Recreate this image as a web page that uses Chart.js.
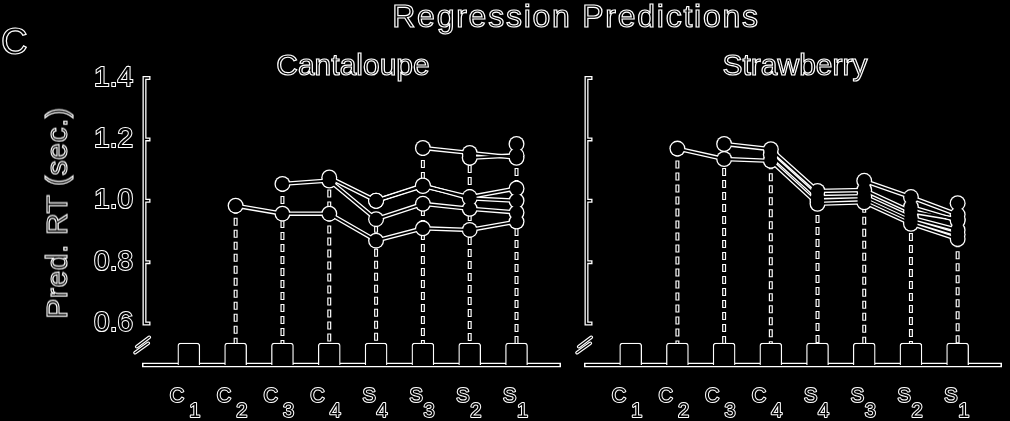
<!DOCTYPE html>
<html><head><meta charset="utf-8">
<script src="https://cdn.jsdelivr.net/npm/chart.js@4/dist/chart.umd.min.js"></script>
<style>
html,body{margin:0;padding:0;background:#000;width:1010px;height:421px;overflow:hidden;}
#wrap{position:relative;width:1010px;height:421px;background:#000;}
canvas{position:absolute;top:0;}
.t{position:absolute;font-family:'Liberation Sans',Arial,sans-serif;color:#000;-webkit-text-stroke:1.2px #fff;line-height:1;white-space:nowrap;}
</style></head><body>
<div id="wrap">
<canvas id="c1" width="572" height="421" style="left:0;width:572px;height:421px"></canvas>
<canvas id="c2" width="438" height="421" style="left:572px;width:438px;height:421px"></canvas>
<div class="t" id="panelLetter" style="font-size:37px;left:1px;top:23px;">C</div>
<div class="t" id="mainTitle" style="font-size:32px;left:576px;top:0px;letter-spacing:1.75px;transform:translateX(-50%);"></div>
<div class="t" id="leftTitle" style="font-size:30px;left:353px;top:50px;transform:translateX(-50%);"></div>
<div class="t" id="rightTitle" style="font-size:30px;left:795px;top:50px;transform:translateX(-50%);"></div>
<div class="t" id="yLabel" style="font-size:30px;left:56.6px;top:212.5px;letter-spacing:0.6px;transform:translate(-50%,-50%) rotate(-90deg);"></div>
</div>
<script>
// ---- data ----
const mainTitle = 'Regression Predictions';
const panelTitles = ['Cantaloupe', 'Strawberry'];
const yAxisTitle = 'Pred. RT (sec.)';
const categories = ['C1', 'C2', 'C3', 'C4', 'S4', 'S3', 'S2', 'S1'];
const yTicks = [0.6, 0.8, 1.0, 1.2, 1.4];

const cantaloupe1 = [null, 0.984, 0.958, 0.958, 0.870, 0.910, 0.905, 0.932];
const cantaloupe2 = [null, null, 1.055, 1.066, 0.940, 0.990, 0.974, 0.962];
const cantaloupe3 = [null, null, null, 1.076, 1.000, 1.050, 1.008, 1.000];
const cantaloupe4 = [null, null, null, null, 1.000, 1.048, 1.012, 1.040];
const cantaloupe5 = [null, null, null, null, null, 1.172, 1.156, 1.140];
const cantaloupe6 = [null, null, null, null, null, null, 1.140, 1.148];
const cantaloupe7 = [null, null, null, null, null, null, null, 1.185];

const strawberry1 = [null, 1.170, 1.136, 1.130, 0.990, 0.995, 0.925, 0.875];
const strawberry2 = [null, null, 1.185, 1.168, 1.032, 1.035, 0.965, 0.940];
const strawberry3 = [null, null, null, 1.150, 1.012, 1.015, 0.945, 0.905];
const strawberry4 = [null, null, null, null, 1.000, 1.005, 0.935, 0.890];
const strawberry5 = [null, null, null, null, null, 1.065, 1.012, 0.955];
const strawberry6 = [null, null, null, null, null, null, 0.980, 0.935];
const strawberry7 = [null, null, null, null, null, null, null, 0.992];

const cantaloupeSeries = [cantaloupe1, cantaloupe2, cantaloupe3, cantaloupe4, cantaloupe5, cantaloupe6, cantaloupe7];
const strawberrySeries = [strawberry1, strawberry2, strawberry3, strawberry4, strawberry5, strawberry6, strawberry7];

// ---- layout constants ----
const Y_MIN = 0.4648, Y_MAX = 1.4, BOX_TOP = 0.5365, X_MIN = 0, X_MAX = 8.95;
const FONT = "'Liberation Sans', Arial, sans-serif";
Chart.defaults.font.family = FONT;

document.getElementById('mainTitle').textContent = mainTitle;
document.getElementById('leftTitle').textContent = panelTitles[0];
document.getElementById('rightTitle').textContent = panelTitles[1];
document.getElementById('yLabel').textContent = yAxisTitle;

function buildDatasets(series) {
  const ds = [];
  ds.push({
    type: 'bar',
    data: categories.map((c, i) => ({x: i + 1, y: [Y_MIN, BOX_TOP]})),
    backgroundColor: '#000', borderColor: '#fff',
    borderWidth: {top: 1.3, left: 1.3, right: 1.3, bottom: 0},
    borderSkipped: 'bottom', borderRadius: {topLeft: 3, topRight: 3},
    barThickness: 22, order: 6
  });
  const pts = [];
  categories.forEach((c, i) => {
    const vals = series.map(s => s[i]).filter(v => v !== null);
    if (vals.length) {
      pts.push({x: i + 1, y: Math.max(...vals)}, {x: i + 1, y: BOX_TOP}, {x: i + 1, y: null});
    }
  });
  ds.push({type: 'line', data: pts.map(p => ({...p})), borderColor: '#fff', borderWidth: 4,
    borderDash: [8, 4], pointRadius: 0, fill: false, spanGaps: false, order: 5});
  ds.push({type: 'line', data: pts.map(p => ({...p})), borderColor: '#000', borderWidth: 1.6,
    borderDash: [6, 6], borderDashOffset: -1, pointRadius: 0, fill: false, spanGaps: false, order: 4});
  series.forEach(s => {
    const data = s.map((v, i) => v === null ? null : {x: i + 1, y: v}).filter(Boolean);
    ds.push({type: 'line', data: data.map(p => ({...p})), borderColor: '#fff', borderWidth: 4.5,
      pointRadius: 8, pointBackgroundColor: '#fff', pointBorderWidth: 0, fill: false, tension: 0, order: 3});
    ds.push({type: 'line', data: data.map(p => ({...p})), borderColor: '#000', borderWidth: 1.8,
      pointRadius: 6.7, pointBackgroundColor: '#000', pointBorderWidth: 0, fill: false, tension: 0, order: 2});
  });
  return ds;
}

function outlineText(ctx, txt, x, y) {
  ctx.lineWidth = 2; ctx.strokeStyle = '#fff'; ctx.lineJoin = 'round';
  ctx.strokeText(txt, x, y);
  ctx.fillStyle = '#000';
  ctx.fillText(txt, x, y);
}

const decorPlugin = {
  id: 'decor',
  beforeDatasetsDraw(chart) {
    const {ctx, chartArea} = chart;
    ctx.save();
    ctx.lineCap = 'butt';
    ctx.strokeStyle = '#fff'; ctx.lineWidth = 4.5;
    ctx.beginPath(); ctx.moveTo(chartArea.left, chartArea.bottom); ctx.lineTo(chartArea.right, chartArea.bottom); ctx.stroke();
    ctx.strokeStyle = '#000'; ctx.lineWidth = 1.8;
    ctx.beginPath(); ctx.moveTo(chartArea.left + 1.5, chartArea.bottom); ctx.lineTo(chartArea.right - 1.5, chartArea.bottom); ctx.stroke();
    ctx.restore();
  },
  afterDraw(chart) {
    const {ctx, chartArea} = chart;
    const ys = chart.scales.y, xs = chart.scales.x;
    ctx.save();
    // y axis with inward ticks
    const ax = chartArea.left + 2.5;
    const yTop = ys.getPixelForValue(yTicks[yTicks.length - 1]);
    const yBot = ys.getPixelForValue(yTicks[0]);
    const axisPath = (len) => {
      ctx.beginPath(); ctx.moveTo(ax, yTop); ctx.lineTo(ax, yBot);
      yTicks.forEach(v => { const p = ys.getPixelForValue(v); ctx.moveTo(ax, p); ctx.lineTo(ax + len, p); });
    };
    ctx.lineCap = 'square';
    ctx.strokeStyle = '#fff'; ctx.lineWidth = 4; axisPath(4); ctx.stroke();
    ctx.strokeStyle = '#000'; ctx.lineWidth = 1.4; axisPath(4); ctx.stroke();
    // axis break marks
    const bx = chartArea.left;
    const breaks = [[-5.3, 346.7, 7.3, 337.3], [-7, 352.7, 6.3, 343.3]];
    ctx.lineCap = 'round';
    [['#fff', 3.6], ['#000', 1.3]].forEach(([col, w]) => {
      ctx.strokeStyle = col; ctx.lineWidth = w;
      breaks.forEach(b => { ctx.beginPath(); ctx.moveTo(bx + b[0], b[1]); ctx.lineTo(bx + b[2], b[3]); ctx.stroke(); });
    });
    // category labels with subscripts
    ctx.font = '20px ' + FONT;
    ctx.textAlign = 'left'; ctx.textBaseline = 'alphabetic';
    categories.forEach((c, i) => {
      const px = xs.getPixelForValue(i + 1);
      const letter = c[0], sub = c.slice(1);
      outlineText(ctx, letter, px + (letter === 'C' ? -19 : -13.5), 402);
      outlineText(ctx, sub, px + 0.5, 417);
    });
    ctx.restore();
  }
};

function makeChart(id, series, showTicks, padding) {
  return new Chart(document.getElementById(id), {
    type: 'line',
    data: {datasets: buildDatasets(series)},
    options: {
      responsive: false, animation: false, events: [],
      layout: {padding},
      plugins: {legend: {display: false}, tooltip: {enabled: false}, title: {display: false}},
      scales: {
        x: {type: 'linear', min: X_MIN, max: X_MAX, display: false, offset: false, grid: {offset: false}},
        y: {
          type: 'linear', min: Y_MIN, max: Y_MAX, display: showTicks,
          afterFit: s => { s.width = showTicks ? 62 : 0; },
          afterBuildTicks: s => { s.ticks = yTicks.map(v => ({value: v})); },
          grid: {display: false, drawTicks: false}, border: {display: false},
          ticks: {
            color: '#000', textStrokeColor: '#fff', textStrokeWidth: 2, padding: 9,
            font: {size: 28, family: FONT},
            callback: v => Number(v).toFixed(1)
          }
        }
      }
    },
    plugins: [decorPlugin]
  });
}

makeChart('c1', cantaloupeSeries, true, {left: 80, right: 11, top: 78, bottom: 56});
makeChart('c2', strawberrySeries, false, {left: 12, right: 7, top: 78, bottom: 56});
</script>
</body></html>
